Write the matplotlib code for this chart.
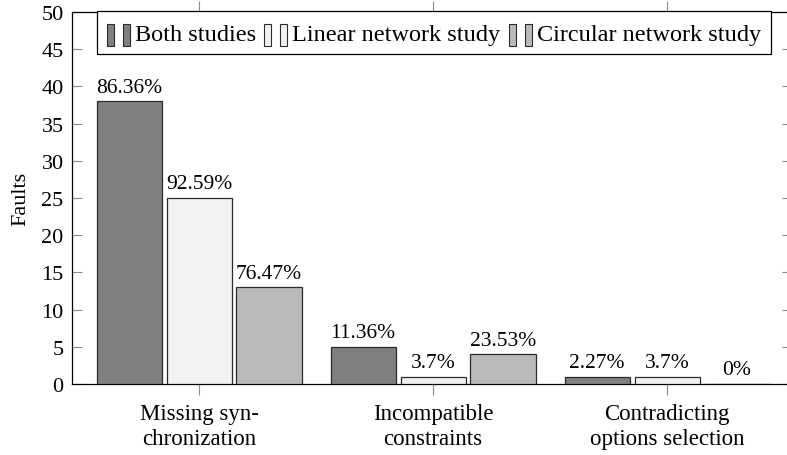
import matplotlib
matplotlib.use("Agg")
import matplotlib.pyplot as plt
import numpy as np
from matplotlib.legend_handler import HandlerBase
from matplotlib.patches import Rectangle

plt.rcParams["font.family"] = ["Liberation Serif", "DejaVu Serif"]

categories = ["Missing syn-\nchronization", "Incompatible\nconstraints",
              "Contradicting\noptions selection"]
series = ["Both studies", "Linear network study", "Circular network study"]
faults_both = [38, 5, 1]
faults_linear = [25, 1, 1]
faults_circular = [13, 4, 0]
pct_both = ["86.36%", "11.36%", "2.27%"]
pct_linear = ["92.59%", "3.7%", "3.7%"]
pct_circular = ["76.47%", "23.53%", "0%"]
yticks = list(range(0, 51, 5))

colors = ["#808080", "#f2f2f2", "#bababa"]
edge = "#2b2b2b"
tick_gray = "#8c8c8c"
FS = 15.5

W, H = 787, 456
fig = plt.figure(figsize=(W / 100, H / 100), dpi=100)
# axes box in pixels: left 72, right 792 (runs just past the canvas), top 13, bottom 385
ax = fig.add_axes([72 / W, 1 - 385 / H, (792 - 72) / W, (385 - 13) / H])

x = np.arange(len(categories))
bw, step = 0.278, 0.299
data = [(faults_both, pct_both), (faults_linear, pct_linear), (faults_circular, pct_circular)]
handles = []
for i, (vals, labels) in enumerate(data):
    bars = ax.bar(x + (i - 1) * step, vals, width=bw, color=colors[i],
                  edgecolor=edge, linewidth=0.9, label=series[i], zorder=3)
    handles.append(bars[0])
    for b, lab in zip(bars, labels):
        ax.annotate(lab, (b.get_x() + b.get_width() / 2, b.get_height()),
                    xytext=(0, 7), textcoords="offset points",
                    ha="center", va="baseline", fontsize=FS)

ax.set_xlim(-0.543, 2.534)
ax.set_ylim(0, 50)
ax.set_yticks(yticks)
ax.set_xticks(x)
ax.set_xticklabels(categories, fontsize=16.5, linespacing=1.2)
ax.tick_params(axis="y", direction="in", length=7.5, width=0.8, color=tick_gray,
               right=True, labelsize=16, pad=6)
ax.tick_params(axis="x", direction="out", length=8, width=0.8, color=tick_gray,
               top=True, pad=6)
for s in ax.spines.values():
    s.set_linewidth(0.9)
ax.set_ylabel("Faults", fontsize=16, labelpad=8)


class TwoBars(HandlerBase):
    # pgfplots-style ybar legend image: two small bars side by side
    def create_artists(self, legend, orig_handle, xdescent, ydescent,
                       width, height, fontsize, trans):
        fc = orig_handle.get_facecolor()
        w = width * 0.3
        out = []
        for x0 in (0.0, width * 0.7):
            r = Rectangle((x0 - xdescent, -ydescent - 3), w, height + 1,
                          facecolor=fc, edgecolor=edge, linewidth=0.8,
                          transform=trans)
            out.append(r)
        return out


LFS = 17.5
leg = fig.legend(handles, series, loc="upper left",
                 bbox_to_anchor=(97 / W, 1 - 12 / H), bbox_transform=fig.transFigure,
                 ncol=3, fontsize=LFS, frameon=True, fancybox=False,
                 edgecolor="black", framealpha=1, borderaxespad=0,
                 handlelength=0.95, handleheight=0.95, handletextpad=0.2,
                 columnspacing=0.35, borderpad=0.4,
                 handler_map={h: TwoBars() for h in handles})
leg.get_frame().set_linewidth(0.9)

fig.savefig("out.png", dpi=100)
